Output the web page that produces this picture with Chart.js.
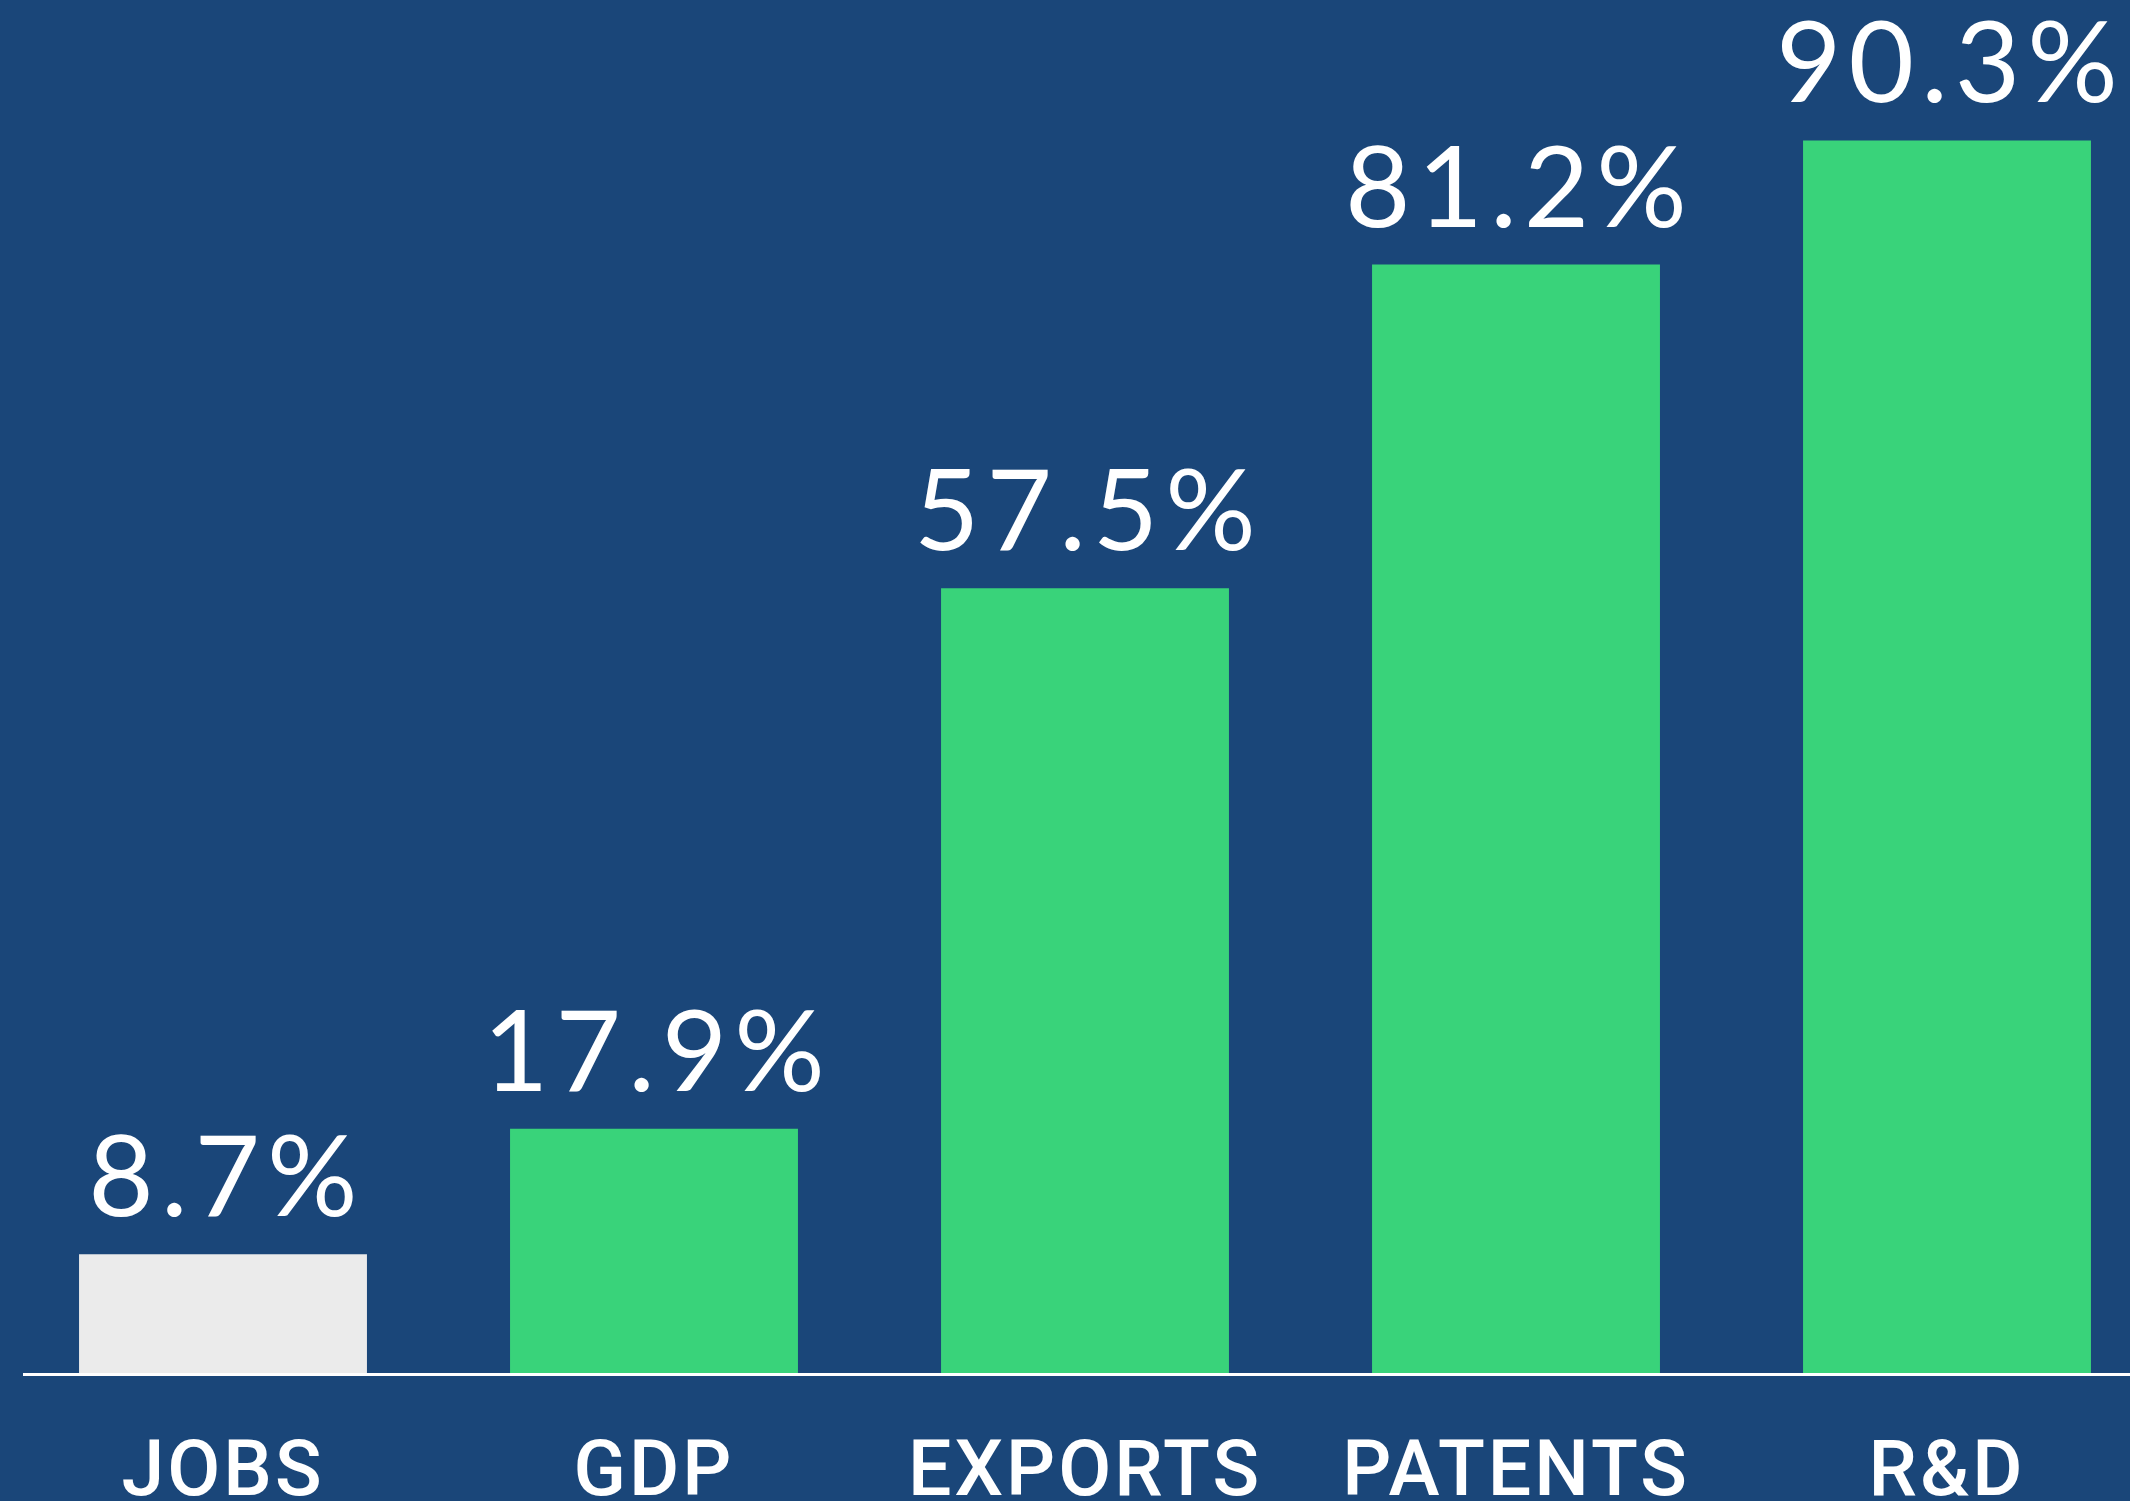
<!DOCTYPE html>
<html>
<head>
<meta charset="utf-8">
<script src="https://cdn.jsdelivr.net/npm/chart.js@4.4.1/dist/chart.umd.min.js"></script>
<style>
  html, body { margin: 0; padding: 0; background: #1a4679; overflow: hidden; width: 2130px; height: 1501px; }
  #wrap { position: absolute; left: 0; top: 0; width: 2170px; height: 1501px; }
</style>
</head>
<body>
<div id="wrap"><canvas id="c"></canvas></div>
<script>
const categories = ["JOBS", "GDP", "EXPORTS", "PATENTS", "R&D"];
const values = [8.7, 17.9, 57.5, 81.2, 90.3];
const valueLabels = ["8.7%", "17.9%", "57.5%", "81.2%", "90.3%"];
const barColors = ["#ebebeb", "#39d37a", "#39d37a", "#39d37a", "#39d37a"];

const valueLabelPlugin = {
  id: "valueLabels",
  afterDatasetsDraw(chart) {
    const ctx = chart.ctx;
    const meta = chart.getDatasetMeta(0);
    ctx.save();
    ctx.letterSpacing = "7px";
    ctx.fillStyle = "#ffffff";
    ctx.font = "400 113px Lato";
    ctx.textAlign = "center";
    ctx.textBaseline = "alphabetic";
    meta.data.forEach((el, i) => {
      ctx.fillText(valueLabels[i], el.x + 3.5, el.y - 38);
    });
    ctx.restore();
    ctx.letterSpacing = "0px";
  }
};

const axisLinePlugin = {
  id: "axisLine",
  afterDatasetsDraw(chart) {
    const ctx = chart.ctx;
    const y = chart.scales.y.getPixelForValue(0);
    ctx.save();
    ctx.strokeStyle = "#ffffff";
    ctx.lineWidth = 3;
    ctx.beginPath();
    ctx.moveTo(23, y + 1.5);
    ctx.lineTo(chart.width, y + 1.5);
    ctx.stroke();
    ctx.restore();
  }
};

const letterSpacingPlugin = {
  id: "letterSpacing",
  beforeDraw(chart) { chart.ctx.letterSpacing = "3px"; },
  beforeDatasetsDraw(chart) { chart.ctx.letterSpacing = "0px"; }
};

new Chart(document.getElementById("c"), {
  type: "bar",
  data: {
    labels: categories,
    datasets: [{
      data: values,
      backgroundColor: barColors,
      borderWidth: 0,
      categoryPercentage: 1,
      barPercentage: 0.668
    }]
  },
  options: {
    responsive: true,
    maintainAspectRatio: false,
    animation: false,
    layout: { padding: { left: 7.5, right: 7.5, top: 8, bottom: 0 } },
    plugins: { legend: { display: false }, tooltip: { enabled: false } },
    scales: {
      y: { display: false, min: 0, max: 100 },
      x: {
        grid: { display: false },
        border: { display: false },
        ticks: {
          color: "#ffffff",
          font: { family: "Roboto", size: 77, weight: "500" },
          padding: 49,
          maxRotation: 0,
          autoSkip: false
        },
        afterFit(scale) { scale.height = 128; }
      }
    }
  },
  plugins: [letterSpacingPlugin, valueLabelPlugin, axisLinePlugin]
});
</script>
</body>
</html>
